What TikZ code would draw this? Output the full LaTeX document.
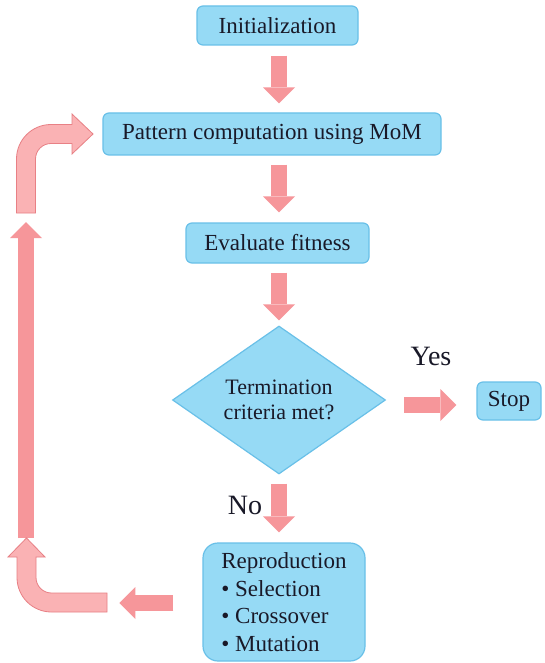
\documentclass[tikz,border=0pt]{standalone}
\usepackage{fontspec}
\setmainfont{Liberation Serif}
\newfontfamily\diagfont{Liberation Serif}
\usetikzlibrary{arrows.meta,shapes.geometric,calc}
\definecolor{boxfill}{RGB}{150,218,245}
\definecolor{boxline}{RGB}{105,192,232}
\definecolor{arrfill}{RGB}{246,150,154}
\definecolor{bendfill}{RGB}{250,178,180}
\definecolor{bendline}{RGB}{232,128,133}
\definecolor{txt}{RGB}{25,25,40}
\begin{document}
\begin{tikzpicture}[x=1pt,y=-1pt,
  stepbox/.style={draw=boxline, line width=1.2pt, fill=boxfill, rounded corners=6pt, inner sep=0pt, text=txt, font=\diagfont\fontsize{23}{27.5}\selectfont},
  decision/.style={diamond, draw=boxline, line width=1.2pt, fill=boxfill, aspect=1.44, inner sep=0pt, text=txt, align=center, font=\diagfont\fontsize{22}{25}\selectfont},
  flow/.style={draw=arrfill, line width=16pt, -{Triangle[width=32pt,length=16pt,line width=0pt]}},
  bentarrow/.style={fill=bendfill, draw=bendline, line width=0.8pt},
  lbl/.style={text=txt, font=\diagfont\fontsize{28}{30}\selectfont, inner sep=0pt}]
\useasboundingbox[fill=white] (0,0) rectangle (545,663);

% nodes
\node[stepbox, minimum width=161pt, minimum height=39pt] (init) at (277.5,25.5) {Initialization};
\node[stepbox, minimum width=338pt, minimum height=42pt] (pattern) at (272,134) {Pattern computation using MoM};
\node[stepbox, minimum width=183pt, minimum height=40pt] (eval) at (277.5,243) {Evaluate fitness};
\node[decision, minimum width=213pt, minimum height=148pt] (dec) at (279,400) {Termination\\criteria met?};
\node[stepbox, minimum width=64pt, minimum height=38pt] (stop) at (509,401) {Stop};
\node[stepbox, rounded corners=15pt, minimum width=162pt, minimum height=118pt, align=left] (repro) at (284,602) {Reproduction\\• Selection\\• Crossover\\• Mutation};
\node[lbl] (yes) at (431,356) {Yes};
\node[lbl] (no) at (245,505) {No};

% helper coordinates
\coordinate (spine) at (279,0);
\coordinate (loopbot) at (26,538);
\coordinate (looptop) at (26,222);

% straight flow arrows
\draw[flow] ($(init.south-|spine)+(0,10)$) -- ($(pattern.north-|spine)+(0,-9)$);
\draw[flow] ($(pattern.south-|spine)+(0,9)$) -- ($(eval.north-|spine)+(0,-10)$);
\draw[flow] ($(eval.south-|spine)+(0,9)$) -- ($(dec.north)+(0,-5)$);
\draw[flow] ($(dec.south)+(0,9)$) -- ($(repro.north-|spine)+(0,-10)$);
\draw[flow] ($(dec.east)+(18,5)$) -- ($(stop.west)+(-20,4)$);
\draw[flow] ($(repro.west)+(-29,1)$) -- ($(repro.west)+(-83,1)$);
\draw[flow] (loopbot) -- (looptop);

% bent arrow, bottom left (points up)
\draw[bentarrow] (107,593) -- (51.5,593) arc[start angle=90, end angle=180, radius=15.5]
  -- (36,557) -- (45,557) -- (26.5,538) -- (8,557) -- (17,557) -- (17,577.5)
  arc[start angle=180, end angle=90, radius=34.5] -- (107,612) -- cycle;

% bent arrow, top left (points right into pattern box)
\draw[bentarrow] (16.5,213) -- (16.5,159) arc[start angle=180, end angle=270, radius=34.5]
  -- (72,124.5) -- (72,114) -- (93,134) -- (72,154) -- (72,143.5) -- (51,143.5)
  arc[start angle=270, end angle=180, radius=15.5] -- (35.5,213) -- cycle;
\end{tikzpicture}
\end{document}
